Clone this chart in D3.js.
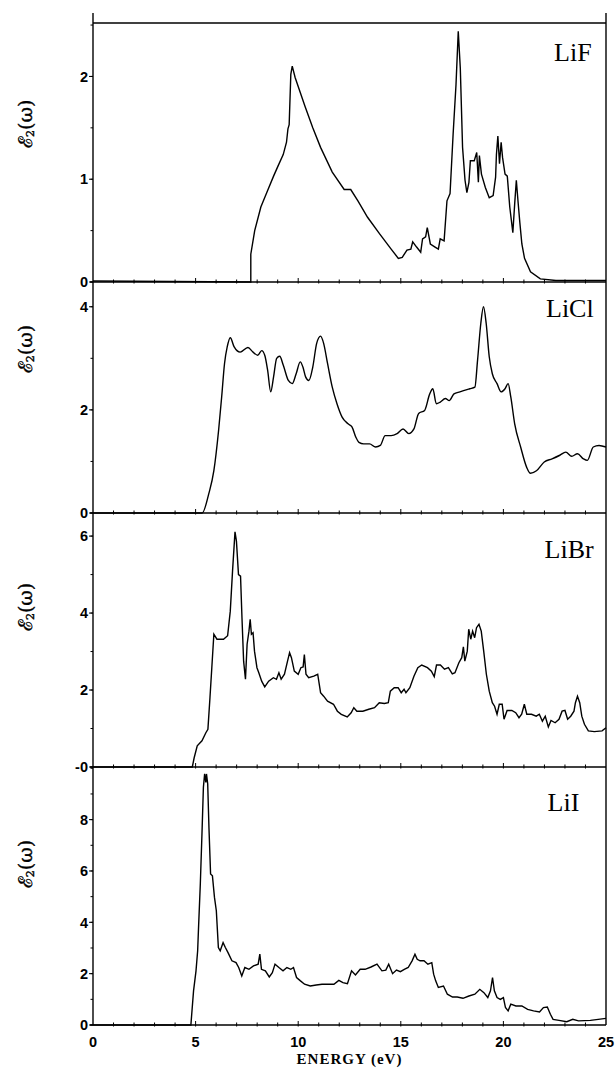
<!DOCTYPE html>
<html lang="en">
<head>
<meta charset="UTF-8">
<title>Li halides eps2</title>
<script src="https://d3js.org/d3.v7.min.js"></script>
<style>
  body { margin: 0; background: #fff; }
  svg { display: block; }
  .curve { fill: none; stroke: #000; stroke-width: 1.4; }
  .frame { stroke: #000; stroke-width: 1.4; fill: none; }
  .tick { stroke: #000; stroke-width: 1; }
  .tlabel { font-family: "Liberation Sans", Arial, sans-serif; font-weight: bold; font-size: 14.5px; fill: #000; }
  .name { font-family: "Liberation Serif", "Times New Roman", serif; font-size: 26px; fill: #000; }
  .ylab { font-family: "DejaVu Serif", serif; font-size: 19px; fill: #000; stroke: #000; stroke-width: 0.4px; }
  .xlab { font-family: "Liberation Serif", serif; font-weight: bold; font-size: 15px; letter-spacing: 1px; fill: #000; }
</style>
</head>
<body>
<svg id="chart" width="616" height="1070"></svg>
<script>
// ---- data: [energy (eV), eps2] ----
const lifData = [
  [0,0.01],[7.69,0],[7.69,0.27],[7.88,0.5],[8.18,0.73],[8.51,0.89],[8.8,1.03],[9.02,1.13],[9.27,1.24],
  [9.43,1.36],[9.5,1.49],[9.56,1.53],[9.64,2.02],[9.71,2.1],[9.85,1.99],[10.33,1.71],[10.71,1.5],
  [11.09,1.31],[11.66,1.07],[12.24,0.9],[12.56,0.9],[12.91,0.79],[13.38,0.63],[13.96,0.47],[14.53,0.32],
  [14.88,0.23],[15.07,0.24],[15.3,0.31],[15.49,0.32],[15.58,0.39],[15.77,0.34],[15.97,0.29],[16.06,0.42],
  [16.21,0.44],[16.29,0.53],[16.44,0.37],[16.67,0.34],[16.83,0.32],[16.92,0.42],[17.11,0.4],[17.25,0.79],
  [17.4,0.86],[17.55,1.44],[17.69,1.92],[17.8,2.44],[17.9,2.08],[18.01,1.31],[18.13,0.99],[18.22,0.87],
  [18.32,0.97],[18.39,1.18],[18.58,1.18],[18.7,1.26],[18.78,0.97],[18.83,1.23],[18.93,1.05],[19.12,0.92],
  [19.31,0.82],[19.5,0.84],[19.62,1.02],[19.66,1.24],[19.73,1.42],[19.81,1.15],[19.89,1.36],[19.96,1.21],
  [20.08,1.05],[20.19,1.03],[20.31,0.73],[20.46,0.48],[20.55,0.76],[20.63,0.99],[20.71,0.79],[20.8,0.58],
  [20.9,0.37],[21.03,0.23],[21.32,0.1],[21.8,0.03],[22.56,0.015],[25,0.015]
];
const liclData = [
  [0,0],[5.32,0],[5.64,0.37],[5.89,0.82],[6.12,1.6],[6.27,2.25],[6.41,2.9],[6.54,3.22],[6.69,3.4],
  [6.88,3.22],[7.17,3.12],[7.55,3.21],[7.8,3.12],[8.03,3.06],[8.22,3.15],[8.37,3.06],[8.51,2.77],
  [8.66,2.35],[8.8,2.64],[8.95,3.0],[9.1,3.04],[9.27,2.87],[9.52,2.57],[9.71,2.51],[9.9,2.7],[10.1,2.93],
  [10.23,2.83],[10.36,2.64],[10.52,2.57],[10.71,2.83],[10.9,3.29],[11.09,3.43],[11.24,3.29],[11.43,2.9],
  [11.66,2.44],[11.89,2.12],[12.14,1.86],[12.43,1.73],[12.62,1.67],[12.81,1.47],[12.96,1.37],[13.19,1.34],
  [13.48,1.34],[13.77,1.28],[14.0,1.31],[14.24,1.5],[14.53,1.5],[14.82,1.54],[15.11,1.63],[15.39,1.54],
  [15.64,1.63],[15.87,1.93],[16.16,1.99],[16.41,2.31],[16.56,2.41],[16.73,2.12],[16.92,2.15],[17.17,2.22],
  [17.36,2.18],[17.59,2.31],[17.88,2.35],[18.36,2.41],[18.61,2.44],[18.74,2.96],[18.9,3.68],[19.03,4.0],
  [19.16,3.68],[19.31,3.03],[19.46,2.7],[19.69,2.51],[19.89,2.35],[20.08,2.41],[20.23,2.51],[20.36,2.25],
  [20.55,1.73],[20.84,1.28],[21.13,0.89],[21.32,0.77],[21.61,0.82],[21.99,0.99],[22.37,1.05],[22.75,1.12],
  [23.04,1.18],[23.33,1.1],[23.61,1.15],[23.9,1.05],[24.09,1.02],[24.38,1.28],[24.66,1.31],[25,1.28]
];
const libRData = [
  [0,0],[4.84,0],[4.93,0.24],[5.08,0.55],[5.31,0.68],[5.5,0.89],[5.6,0.98],[5.7,1.8],[5.79,2.58],[5.89,3.45],
  [6.04,3.32],[6.36,3.32],[6.56,3.41],[6.69,4.05],[6.8,5.09],[6.92,6.11],[6.99,5.87],[7.09,5.0],[7.19,4.96],
  [7.26,3.88],[7.34,2.75],[7.43,2.28],[7.51,3.19],[7.6,3.53],[7.66,3.84],[7.72,3.45],[7.8,3.49],[7.87,3.01],
  [7.99,2.58],[8.08,2.45],[8.22,2.23],[8.37,2.08],[8.56,2.23],[8.79,2.32],[8.94,2.28],[9.06,2.45],[9.17,2.28],
  [9.33,2.41],[9.48,2.75],[9.58,2.97],[9.67,2.84],[9.81,2.49],[10.0,2.41],[10.13,2.58],[10.24,2.6],[10.3,2.92],
  [10.38,2.41],[10.51,2.32],[10.76,2.36],[10.95,2.41],[11.09,1.93],[11.24,1.84],[11.43,1.71],[11.72,1.63],
  [11.91,1.45],[12.1,1.37],[12.39,1.3],[12.58,1.41],[12.71,1.54],[12.86,1.45],[13.15,1.45],[13.44,1.5],
  [13.72,1.54],[13.95,1.67],[14.2,1.65],[14.39,1.67],[14.49,1.97],[14.68,2.06],[14.87,2.06],[15.02,1.93],
  [15.16,2.02],[15.25,1.93],[15.44,2.06],[15.64,2.36],[15.83,2.58],[16.02,2.65],[16.3,2.58],[16.49,2.49],
  [16.63,2.35],[16.74,2.65],[16.93,2.65],[17.13,2.54],[17.32,2.58],[17.51,2.42],[17.64,2.45],[17.83,2.71],
  [17.97,2.84],[18.05,3.12],[18.12,2.75],[18.24,3.01],[18.31,3.58],[18.41,3.32],[18.5,3.53],[18.6,3.36],
  [18.69,3.62],[18.81,3.71],[18.92,3.53],[19.04,3.01],[19.17,2.41],[19.31,1.97],[19.46,1.67],[19.57,1.58],
  [19.69,1.37],[19.8,1.63],[19.94,1.63],[20.03,1.24],[20.18,1.47],[20.41,1.47],[20.6,1.41],[20.76,1.28],
  [20.89,1.37],[21.02,1.63],[21.14,1.37],[21.37,1.37],[21.6,1.32],[21.75,1.37],[21.9,1.19],[22.04,1.32],
  [22.19,1.04],[22.32,1.21],[22.52,1.15],[22.71,1.24],[22.86,1.45],[23.0,1.47],[23.13,1.24],[23.28,1.32],
  [23.44,1.45],[23.51,1.67],[23.61,1.84],[23.72,1.67],[23.82,1.32],[23.95,1.11],[24.14,0.94],[24.43,0.92],
  [24.81,0.94],[25,1.02]
];
const liiData = [
  [0,0],[4.77,0],[4.9,1.33],[5.02,2.11],[5.1,2.89],[5.15,3.93],[5.23,5.49],[5.31,7.44],[5.38,9.26],[5.44,9.78],
  [5.5,9.45],[5.53,9.78],[5.59,9.39],[5.65,7.7],[5.73,5.88],[5.82,5.81],[5.92,4.97],[6.01,4.45],[6.11,3.02],
  [6.2,2.89],[6.34,3.21],[6.45,3.02],[6.58,2.82],[6.77,2.5],[6.97,2.43],[7.1,2.24],[7.25,1.91],[7.4,2.24],
  [7.6,2.17],[7.82,2.3],[8.05,2.37],[8.13,2.76],[8.21,2.17],[8.4,2.11],[8.59,1.87],[8.74,2.04],[8.87,2.37],
  [9.06,2.24],[9.26,2.11],[9.45,2.24],[9.64,2.17],[9.77,2.24],[9.92,1.85],[10.11,1.72],[10.31,1.59],
  [10.59,1.52],[10.88,1.56],[11.16,1.59],[11.45,1.59],[11.74,1.59],[11.98,1.74],[12.18,1.65],[12.4,1.61],
  [12.6,2.11],[12.79,1.95],[13.02,2.17],[13.26,2.17],[13.55,2.26],[13.84,2.37],[14.08,2.11],[14.27,2.14],
  [14.41,2.37],[14.6,2.0],[14.79,2.14],[14.98,2.08],[15.17,2.17],[15.36,2.24],[15.55,2.5],[15.69,2.76],
  [15.8,2.56],[15.94,2.5],[16.13,2.5],[16.32,2.37],[16.51,2.43],[16.6,1.98],[16.7,1.72],[16.83,1.46],
  [17.08,1.52],[17.27,1.2],[17.52,1.09],[17.75,1.09],[18.03,1.04],[18.32,1.13],[18.61,1.2],[18.85,1.39],
  [19.05,1.26],[19.24,1.07],[19.37,1.33],[19.47,1.85],[19.56,1.33],[19.69,1.07],[19.85,1.0],[20.0,1.07],
  [20.1,0.68],[20.23,0.55],[20.36,0.81],[20.61,0.74],[20.9,0.74],[21.18,0.61],[21.47,0.55],[21.76,0.51],
  [21.95,0.68],[22.14,0.7],[22.29,0.42],[22.42,0.22],[22.71,0.18],[23.09,0.13],[23.38,0.22],[23.66,0.16],
  [24.24,0.18],[24.62,0.22],[25,0.26]
];

const names = ["LiF", "LiCl", "LiBr", "LiI"];
const yMax = [2.52, 4.48, 6.6, 10.05];
const yTicks = [[0, 1, 2], [0, 2, 4], [0, 2, 4, 6], [0, 2, 4, 6, 8]];
const yMinor = [0.5, 1, 1, 1];
const xTicks = [0, 5, 10, 15, 20, 25];

// panel pixel bands (top, bottom)
const bands = [[23, 282], [282, 513], [513, 767], [767, 1025]];
const series = [lifData, liclData, libRData, liiData];
const smooth = [false, true, false, false];
const nameAt = [[24.3, 2.15], [24.4, 3.8], [24.4, 5.44], [23.7, 8.35]];
const ylabAt = [1.54, 3.18, 4.16, 6.27];

const svg = d3.select("#chart");
const x = d3.scaleLinear().domain([0, 25]).range([93, 606]);

series.forEach((data, i) => {
  const [top, bot] = bands[i];
  const y = d3.scaleLinear().domain([0, yMax[i]]).range([bot, top]);
  const g = svg.append("g");

  // frame: left/right axis lines, bottom line
  const yTopLine = i === 0 ? 13 : top;
  g.append("line").attr("class", "frame")
    .attr("x1", x(0)).attr("x2", x(0)).attr("y1", yTopLine).attr("y2", bot);
  g.append("line").attr("class", "frame")
    .attr("x1", x(25)).attr("x2", x(25)).attr("y1", yTopLine).attr("y2", bot);
  g.append("line").attr("class", "frame")
    .attr("x1", x(0) - 3).attr("x2", x(25)).attr("y1", bot).attr("y2", bot);
  if (i === 0) {
    g.append("line").attr("class", "frame")
      .attr("x1", x(0)).attr("x2", x(25)).attr("y1", top).attr("y2", top);
  }

  // small energy ticks along the bottom line
  g.selectAll(".xt").data(d3.range(1, 25)).join("line")
    .attr("class", "tick")
    .attr("x1", d => x(d)).attr("x2", d => x(d))
    .attr("y1", bot + 1.5).attr("y2", d => bot - (d % 5 === 0 ? 4 : 2.5));

  // y ticks: minor and major
  const minor = d3.range(0, yMax[i], yMinor[i]);
  g.selectAll(".ym").data(minor).join("line")
    .attr("class", "tick")
    .attr("x1", x(0) - 2.5).attr("x2", x(0))
    .attr("y1", d => y(d)).attr("y2", d => y(d));
  g.selectAll(".yM").data(yTicks[i]).join("line")
    .attr("class", "tick")
    .attr("x1", x(0) - 4).attr("x2", x(0))
    .attr("y1", d => y(d)).attr("y2", d => y(d));
  g.selectAll(".yl").data(yTicks[i]).join("text")
    .attr("class", "tlabel")
    .attr("x", x(0) - 5).attr("y", d => y(d))
    .attr("dy", "0.36em").attr("text-anchor", "end")
    .text(d => (i === 2 && d === 0) ? "-0" : d);

  // curve
  const line = d3.line()
    .x(d => x(d[0])).y(d => y(d[1]))
    .curve(smooth[i] ? d3.curveMonotoneX : d3.curveLinear);
  g.append("path").datum(data).attr("class", "curve").attr("d", line);

  // compound name
  g.append("text").attr("class", "name")
    .attr("x", x(nameAt[i][0])).attr("y", y(nameAt[i][1]))
    .attr("text-anchor", "end").text(names[i]);

  // y label  E2(w)
  const ly = y(ylabAt[i]);
  const t = g.append("text").attr("class", "ylab")
    .attr("transform", `translate(32,${ly}) rotate(-90)`)
    .attr("text-anchor", "middle");
  t.append("tspan").text("\u2130");
  t.append("tspan").attr("font-size", "11px").attr("dy", 2).text("2");
  t.append("tspan").attr("dy", -2).text("(\u03C9)");
});

// x tick labels on bottom panel
svg.selectAll(".xl").data(xTicks).join("text")
  .attr("class", "tlabel")
  .attr("x", d => x(d)).attr("y", 1047)
  .attr("text-anchor", "middle").text(d => d);

svg.append("text").attr("class", "xlab")
  .attr("x", x(12.5)).attr("y", 1064)
  .attr("text-anchor", "middle").text("ENERGY (eV)");
</script>
</body>
</html>
